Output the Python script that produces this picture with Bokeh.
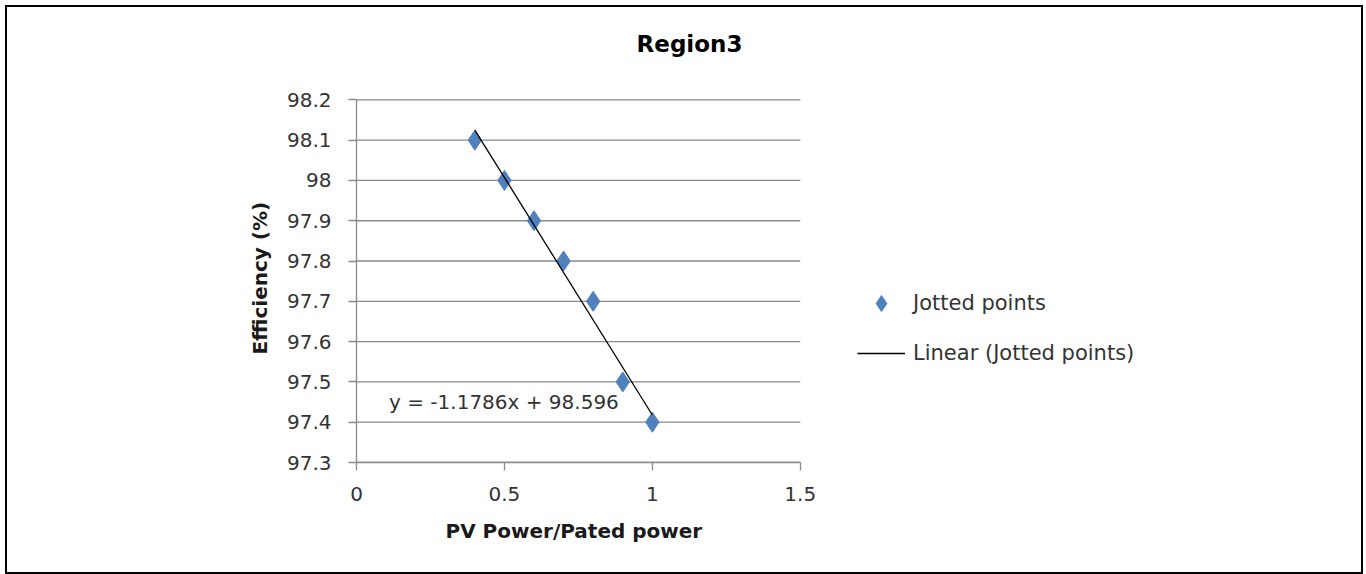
import numpy as np
from bokeh.plotting import figure
from bokeh.models import Range1d, FixedTicker, Label, Legend, LegendItem, ColumnDataSource, Title
from bokeh.embed import file_html
from bokeh.resources import INLINE

# ---------------- data ----------------
title_text = "Region3"
x_label = "PV Power/Pated power"
y_label = "Efficiency (%)"
series_name = "Jotted points"
trend_name = "Linear (Jotted points)"

power_ratio = [0.4, 0.5, 0.6, 0.7, 0.8, 0.9, 1.0]
efficiency = [98.1, 98.0, 97.9, 97.8, 97.7, 97.5, 97.4]

x_ticks = [0, 0.5, 1, 1.5]
x_tick_labels = ["0", "0.5", "1", "1.5"]
y_ticks = [97.3, 97.4, 97.5, 97.6, 97.7, 97.8, 97.9, 98.0, 98.1, 98.2]
y_tick_labels = ["97.3", "97.4", "97.5", "97.6", "97.7", "97.8", "97.9", "98", "98.1", "98.2"]

# linear trend (least squares)
slope, intercept = np.polyfit(power_ratio, efficiency, 1)
trend_x = [min(power_ratio), max(power_ratio)]
trend_y = [slope * v + intercept for v in trend_x]
equation = f"y = {slope:.4f}x + {intercept:.3f}"

FONT = "DejaVu Sans"
GRID = "#8a8a8a"
TXT = "#333333"

# ---------------- geometry ----------------
# axis area: 442 px for x 0..1.5, 359.4 px for y 97.3..98.2
X_PX = 442.0 / (x_ticks[-1] - x_ticks[0])
Y_PX = 359.4 / (y_ticks[-1] - y_ticks[0])
FRAME_W, FRAME_H = 1000, 441
x_end = x_ticks[0] + FRAME_W / X_PX
y_end = y_ticks[0] + FRAME_H / Y_PX

p = figure(
    width=1358, height=569,
    x_range=Range1d(x_ticks[0], x_end), y_range=Range1d(y_ticks[0], y_end),
    output_backend="svg", toolbar_location=None,
    min_border_left=349, min_border_right=1354 - 349 - FRAME_W,
    min_border_top=10, min_border_bottom=565 - 10 - FRAME_H,
)
p.styles = {"border": "2px solid black", "margin-left": "5px", "margin-top": "5px"}
p.outline_line_color = None
p.background_fill_color = "white"
p.border_fill_color = "white"

# axes
p.xaxis.ticker = FixedTicker(ticks=x_ticks)
p.yaxis.ticker = FixedTicker(ticks=y_ticks)
p.xaxis.bounds = (x_ticks[0], x_ticks[-1])
p.yaxis.bounds = (y_ticks[0], y_ticks[-1])
p.xaxis.major_label_overrides = {t: l for t, l in zip(x_ticks, x_tick_labels)}
p.yaxis.major_label_overrides = {t: l for t, l in zip(y_ticks, y_tick_labels)}
for ax in (p.xaxis, p.yaxis):
    ax.axis_line_color = GRID
    ax.axis_line_width = 1.3
    ax.major_tick_line_color = GRID
    ax.major_tick_line_width = 1.3
    ax.major_tick_out = 8
    ax.major_tick_in = 0
    ax.minor_tick_line_color = None
    ax.major_label_text_font = FONT
    ax.major_label_text_font_size = "20px"
    ax.major_label_text_color = TXT
p.yaxis.major_label_standoff = 17
p.xaxis.major_label_standoff = 16

# axis titles, positioned along the bounded axes
x_title = Title(text=x_label, align="left", offset=89, vertical_align="top", standoff=30,
                text_font=FONT, text_font_size="20px", text_font_style="bold",
                text_color="#1a1a1a")
p.add_layout(x_title, "below")
y_title = Title(text=y_label, align="left", offset=108, vertical_align="bottom", standoff=24,
                text_font=FONT, text_font_size="20px", text_font_style="bold",
                text_color="#1a1a1a")
p.add_layout(y_title, "left")

p.xgrid.grid_line_color = None
p.ygrid.grid_line_color = None

# horizontal gridlines limited to the axis extent
grid_src = ColumnDataSource(dict(x0=[x_ticks[0]] * len(y_ticks), x1=[x_ticks[-1]] * len(y_ticks),
                                 y=y_ticks))
p.segment(x0="x0", x1="x1", y0="y", y1="y", source=grid_src,
          line_color=GRID, line_width=1.3)

# data
src = ColumnDataSource(dict(x=power_ratio, y=efficiency))
pts = p.scatter("x", "y", source=src, marker="diamond",
                size=20, fill_color="#4F81BD", line_color="#4F81BD")
trend = p.line(trend_x, trend_y, line_color="black", line_width=1.3)

eq = Label(x=0.11, y=97.45, text=equation, text_font=FONT,
           text_font_size="20px", text_color=TXT, text_baseline="middle")
p.add_layout(eq)

title = Label(x=333, y=FRAME_H - 32 + 10, x_units="screen", y_units="screen", text=title_text,
              text_font=FONT, text_font_size="23px", text_font_style="bold",
              text_color="black", text_align="center", text_baseline="middle")
p.add_layout(title)

legend = Legend(items=[LegendItem(label=series_name, renderers=[pts]),
                       LegendItem(label=trend_name, renderers=[trend])],
                location=(501, 89), orientation="vertical",
                glyph_width=48, glyph_height=40, label_height=20,
                label_standoff=8, spacing=10, padding=0, margin=0,
                border_line_color=None, background_fill_alpha=0,
                label_text_font=FONT, label_text_font_size="21px",
                label_text_color=TXT)
p.add_layout(legend, "center")

open("out.html", "w").write(file_html(p, INLINE))
